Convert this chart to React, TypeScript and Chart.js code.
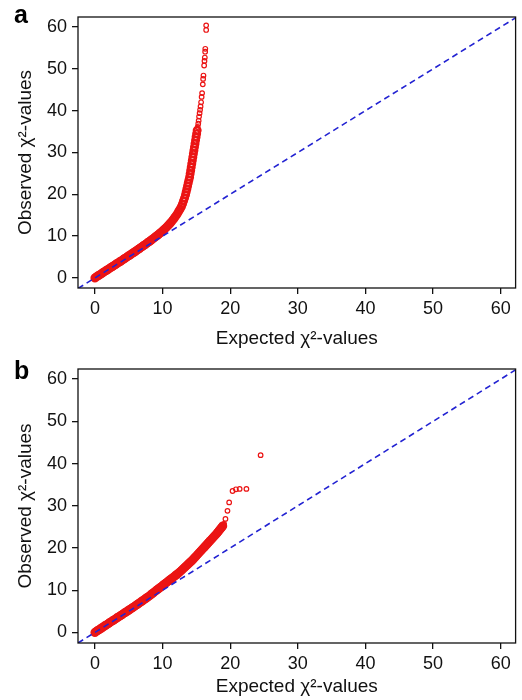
import React, { useEffect, useRef } from "react";
import { Chart, registerables } from "chart.js";

Chart.register(...registerables);

// ---- data ----
const tickValues = [0, 10, 20, 30, 40, 50, 60];
const xTitle = "Expected χ²-values";
const yTitle = "Observed χ²-values";
const diagonalEnds = [-5, 70];

const expectedA = [
  0.0, 0.2, 0.4, 0.6, 0.8, 1.0, 1.2, 1.4, 1.6, 1.8, 2.0, 2.2, 2.4, 2.6, 2.8, 3.0, 3.2, 3.4, 3.6, 3.8,
  4.0, 4.2, 4.4, 4.6, 4.8, 5.0, 5.2, 5.4, 5.6, 5.8, 6.0, 6.2, 6.4, 6.6, 6.8, 7.0, 7.2, 7.4, 7.6, 7.8,
  8.0, 8.2, 8.4, 8.6, 8.8, 9.0, 9.2, 9.4, 9.6, 9.8, 10.0, 10.2, 10.4, 10.6, 10.8, 11.0, 11.2, 11.4,
  11.6, 11.8, 12.0, 12.2, 12.4, 12.6, 12.8, 12.95, 13.1, 13.25, 13.4, 13.5, 13.6, 13.7, 13.8, 13.9,
  14.0, 14.08, 14.16, 14.24, 14.32, 14.4, 14.48, 14.56, 14.64, 14.72, 14.8, 14.88, 14.96, 15.04,
  15.12, 15.2, 15.28, 15.34, 15.4, 15.48, 15.55, 15.62, 15.7, 15.78, 15.85, 15.95, 16.0, 16.05,
  16.15, 16.2, 16.25, 16.3, 16.32, 16.45, 16.45,
];
const observedA = [
  0.0, 0.25, 0.45, 0.65, 0.85, 1.05, 1.3, 1.5, 1.7, 1.9, 2.1, 2.35, 2.55, 2.75, 2.95, 3.15, 3.4, 3.6, 3.8, 4.0,
  4.2, 4.45, 4.65, 4.85, 5.1, 5.3, 5.5, 5.75, 5.95, 6.15, 6.4, 6.6, 6.85, 7.05, 7.3, 7.5, 7.75, 7.95, 8.2, 8.45,
  8.65, 8.9, 9.15, 9.4, 9.65, 9.9, 10.15, 10.4, 10.7, 10.95, 11.25, 11.55, 11.85, 12.15, 12.5, 12.85, 13.2, 13.6,
  14.0, 14.45, 14.9, 15.4, 15.95, 16.5, 17.1, 17.7, 18.4, 19.1, 19.9, 20.6, 21.3, 22.0, 22.7, 23.4,
  24.1, 24.9, 25.7, 26.5, 27.3, 28.1, 28.9, 29.7, 30.5, 31.3, 32.1, 32.9, 33.7, 34.5,
  35.3, 36.1, 36.9, 37.6, 38.6, 39.4, 40.2, 41.0, 42.0, 43.3, 44.2, 46.3, 47.6, 48.4,
  50.8, 51.9, 52.7, 54.1, 54.8, 59.3, 60.4,
];

const expectedB = [
  0.0, 0.2, 0.4, 0.6, 0.8, 1.0, 1.2, 1.4, 1.6, 1.8, 2.0, 2.2, 2.4, 2.6, 2.8, 3.0, 3.2, 3.4, 3.6, 3.8,
  4.0, 4.2, 4.4, 4.6, 4.8, 5.0, 5.2, 5.4, 5.6, 5.8, 6.0, 6.2, 6.4, 6.6, 6.8, 7.0, 7.2, 7.4, 7.6, 7.8,
  8.0, 8.2, 8.4, 8.6, 8.8, 9.0, 9.2, 9.4, 9.6, 9.8, 10.0, 10.2, 10.4, 10.6, 10.8, 11.0, 11.2, 11.4,
  11.6, 11.8, 12.0, 12.2, 12.4, 12.6, 12.8, 13.0, 13.2, 13.4, 13.6, 13.8, 14.0, 14.2, 14.4, 14.6,
  14.8, 15.0, 15.2, 15.4, 15.6, 15.8, 16.0, 16.2, 16.4, 16.6, 16.8, 17.0, 17.2, 17.4, 17.6, 17.8,
  18.0, 18.15, 18.3, 18.45, 18.6, 18.75, 18.9, 19.1, 19.3, 19.6, 19.85, 20.35, 20.85, 21.4, 22.4, 24.5,
];
const observedB = [
  0.0, 0.25, 0.45, 0.65, 0.85, 1.05, 1.3, 1.5, 1.7, 1.9, 2.1, 2.35, 2.55, 2.75, 2.95, 3.15, 3.4, 3.6, 3.8, 4.0,
  4.2, 4.45, 4.65, 4.85, 5.05, 5.25, 5.5, 5.7, 5.9, 6.1, 6.35, 6.55, 6.8, 7.0, 7.25, 7.45, 7.7, 7.9, 8.15, 8.35,
  8.6, 8.85, 9.1, 9.35, 9.6, 9.85, 10.1, 10.35, 10.6, 10.85, 11.1, 11.35, 11.6, 11.85, 12.1, 12.35, 12.6, 12.85,
  13.1, 13.35, 13.6, 13.85, 14.1, 14.4, 14.7, 15.0, 15.3, 15.6, 15.9, 16.2, 16.5, 16.8, 17.1, 17.45,
  17.8, 18.15, 18.5, 18.85, 19.2, 19.55, 19.9, 20.25, 20.6, 20.95, 21.3, 21.65, 22.0, 22.35, 22.7, 23.05,
  23.4, 23.7, 24.0, 24.3, 24.6, 24.9, 25.2, 25.7, 26.9, 28.8, 30.8, 33.5, 33.9, 34.0, 34.0, 42.0,
];

// ---- chart ----
const FONT = '"Liberation Sans", Arial, Helvetica, sans-serif';

const framePlugin = {
  id: "frame",
  afterDraw(chart: any, _args: any, opts: any) {
    const { ctx, chartArea } = chart;
    const { left, top, right, bottom } = chartArea;
    ctx.save();
    ctx.strokeStyle = "#111";
    ctx.lineWidth = 1.3;
    ctx.strokeRect(left, top, right - left, bottom - top);
    ctx.fillStyle = "#000";
    ctx.font = `bold 25px ${FONT}`;
    ctx.textBaseline = "alphabetic";
    ctx.textAlign = "left";
    ctx.fillText(opts.letter, opts.lx, opts.ly);
    ctx.restore();
  },
};

type Panel = {
  letter: string;
  letterY: number;
  height: number;
  top: number;
  bottom: number;
  yMin: number;
  yMax: number;
  titlePad: number;
  expected: number[];
  observed: number[];
  denseLimit: number;
};

function QQPanel({ p }: { p: Panel }) {
  const ref = useRef<HTMLCanvasElement>(null);
  useEffect(() => {
    if (!ref.current) return;
    const pts = p.expected.map((x, i) => ({ x, y: p.observed[i] }));
    const isDense = (c: any) => (c.raw ? c.raw.y : 0) < p.denseLimit;
    const chart = new Chart(ref.current, {
      type: "scatter",
      data: {
        datasets: [
          {
            type: "line",
            data: diagonalEnds.map((v) => ({ x: v, y: v })),
            borderColor: "rgb(35,35,210)",
            borderWidth: 1.6,
            borderDash: [6, 4],
            pointRadius: 0,
            fill: false,
            order: 0,
          } as any,
          {
            type: "scatter",
            data: pts,
            borderColor: "rgb(235,20,20)",
            backgroundColor: "rgba(0,0,0,0)",
            borderWidth: (c: any) => (isDense(c) ? 2.4 : 1.2),
            pointRadius: (c: any) => (isDense(c) ? 3.3 : 2.3),
            order: 1,
          } as any,
        ],
      },
      options: {
        animation: false,
        responsive: false,
        devicePixelRatio: 1,
        layout: { padding: { top: p.top, right: 2, left: 0, bottom: 0 } },
        plugins: {
          legend: { display: false },
          tooltip: { enabled: false },
          frame: { letter: p.letter, lx: 14, ly: p.letterY },
        } as any,
        scales: {
          x: {
            type: "linear",
            min: -2.5,
            max: 62.2,
            afterBuildTicks: (s: any) => {
              s.ticks = tickValues.map((v) => ({ value: v }));
            },
            afterFit: (s: any) => {
              s.height = p.height - p.bottom;
            },
            grid: { display: true, drawOnChartArea: false, drawTicks: true, tickLength: 6, color: "#111", lineWidth: 1.3 },
            border: { display: false },
            ticks: { color: "#111", font: { family: FONT, size: 18 }, padding: 4, maxRotation: 0 },
            title: {
              display: true,
              text: xTitle,
              color: "#111",
              font: { family: FONT, size: 19 },
              padding: { top: 0, bottom: p.titlePad },
            },
          },
          y: {
            type: "linear",
            min: p.yMin,
            max: p.yMax,
            afterBuildTicks: (s: any) => {
              s.ticks = tickValues.map((v) => ({ value: v }));
            },
            afterFit: (s: any) => {
              s.width = 78;
            },
            grid: { display: true, drawOnChartArea: false, drawTicks: true, tickLength: 6, color: "#111", lineWidth: 1.3 },
            border: { display: false },
            ticks: { color: "#111", font: { family: FONT, size: 18 }, padding: 5 },
            title: {
              display: true,
              text: yTitle,
              color: "#111",
              font: { family: FONT, size: 19 },
              padding: { top: 14, bottom: 0 },
            },
          },
        },
      },
      plugins: [framePlugin as any],
    });
    return () => chart.destroy();
  }, [p]);
  return <canvas ref={ref} width={522} height={p.height} style={{ display: "block", width: 522, height: p.height }} />;
}

const panelA: Panel = {
  letter: "a",
  letterY: 23,
  height: 350,
  top: 17,
  bottom: 288,
  yMin: -2.4,
  yMax: 62.4,
  titlePad: 0,
  expected: expectedA,
  observed: observedA,
  denseLimit: 36,
};

const panelB: Panel = {
  letter: "b",
  letterY: 29,
  height: 350,
  top: 19,
  bottom: 293,
  yMin: -2.5,
  yMax: 62.4,
  titlePad: 2,
  expected: expectedB,
  observed: observedB,
  denseLimit: 25.5,
};

export default function App() {
  return (
    <div style={{ position: "absolute", left: 0, top: 0, width: 522, height: 700, background: "#fff" }}>
      <QQPanel p={panelA} />
      <QQPanel p={panelB} />
    </div>
  );
}
